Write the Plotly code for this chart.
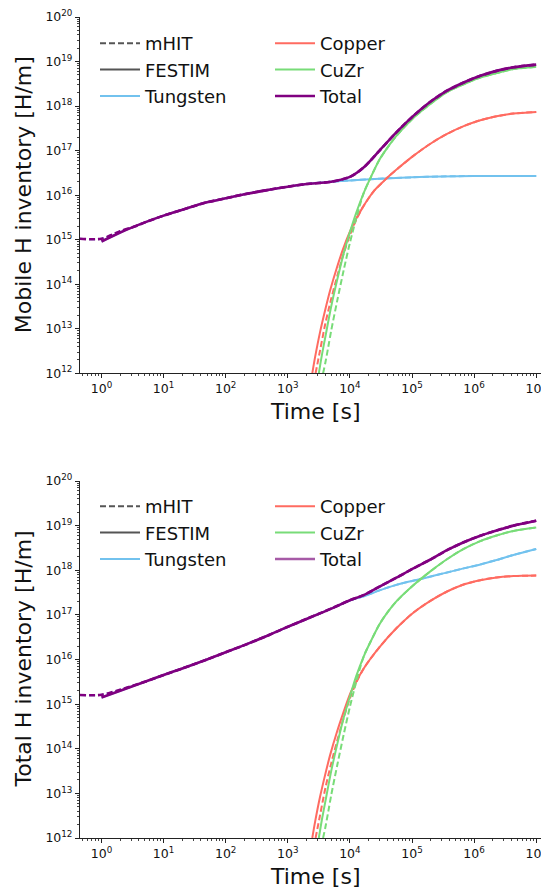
import plotly.graph_objects as go

# ================= DATA =================
# ---- Top panel: mobile H inventory [H/m] vs time [s] ----
top_w_t = [1, 2, 5, 10, 20, 50, 100, 200, 500, 1e3, 2e3, 5e3, 1e4, 3e4, 1e5, 3e5, 1e6, 3e6, 1e7]
top_w = [9.1e14, 1.45e15, 2.45e15, 3.47e15, 4.7e15, 6.9e15, 8.5e15, 1.05e16, 1.32e16, 1.55e16,
         1.78e16, 2.0e16, 2.14e16, 2.34e16, 2.51e16, 2.63e16, 2.69e16, 2.69e16, 2.69e16]
top_w_mhit_t0 = [0.45, 1, 2, 3.5]
top_w_mhit0 = [1.05e15, 1.05e15, 1.55e15, 2.0e15]

top_cu_t = [2480, 2750, 3300, 4000, 4800, 6200, 7800, 1e4, 1.26e4, 1.6e4, 2e4, 2.5e4, 3.2e4, 4.2e4,
            6.3e4, 1.05e5, 1.95e5, 3.6e5, 6.8e5, 1.26e6, 2.3e6, 4.3e6, 1e7]
top_cu = [1e12, 2.3e12, 8.3e12, 2.63e13, 7.2e13, 2.4e14, 6.3e14, 1.51e15, 2.95e15, 5.25e15, 8.5e15,
          1.29e16, 1.82e16, 2.63e16, 4.27e16, 7.6e16, 1.41e17, 2.34e17, 3.55e17, 4.8e17, 5.9e17,
          6.8e17, 7.4e17]
cu_mhit_t0 = [2800, 3300, 4000, 5000, 6300, 7900, 1e4, 1.26e4]
top_cu_mhit0 = [1e12, 3.2e12, 1.26e13, 4.7e13, 1.58e14, 4.8e14, 1.26e15, 2.75e15]

top_cz_t = [3160, 3550, 4000, 5000, 6300, 7900, 1e4, 1.26e4, 1.66e4, 2.1e4, 3e4, 4e4, 5.6e4, 1.05e5,
            1.95e5, 3.6e5, 6.8e5, 1.26e6, 2.3e6, 4.3e6, 1e7]
top_cz = [1e12, 2.63e12, 6.3e12, 3.16e13, 1.32e14, 4.8e14, 1.48e15, 3.98e15, 1.1e16, 2.29e16,
          6.3e16, 1.15e17, 2.14e17, 5.4e17, 1.1e18, 2.04e18, 3.09e18, 4.37e18, 5.5e18, 6.76e18, 7.59e18]
cz_mhit_t0 = [3700, 4000, 4500, 5000, 6300, 7900, 1e4, 1.26e4]
top_cz_mhit0 = [1e12, 1.66e12, 4.0e12, 9.1e12, 4.5e13, 2.0e14, 8.5e14, 2.95e15]

top_tot_t1 = [1e4, 1.66e4, 3e4, 5.6e4, 1.05e5, 1.95e5, 3.6e5, 6.8e5, 1.26e6, 2.3e6, 4.3e6, 1e7]
top_tot1 = [2.57e16, 4.17e16, 1.0e17, 2.57e17, 6.03e17, 1.23e18, 2.19e18, 3.39e18, 4.79e18,
            6.17e18, 7.41e18, 8.51e18]

# ---- Bottom panel: total H inventory [H/m] vs time [s] ----
bot_w_t = [1, 2, 5, 10, 20, 50, 100, 200, 500, 1e3, 2e3, 5e3, 1e4, 1.66e4, 3e4, 5.6e4, 1e5,
           1.74e5, 3.2e5, 6.8e5, 1.26e6, 2.3e6, 4.3e6, 1e7]
bot_w = [1.41e15, 2.0e15, 3.16e15, 4.5e15, 6.3e15, 1.0e16, 1.45e16, 2.1e16, 3.55e16, 5.4e16,
         8.1e16, 1.38e17, 2.1e17, 2.6e17, 3.55e17, 4.7e17, 5.75e17, 6.9e17, 8.5e17, 1.1e18,
         1.35e18, 1.7e18, 2.2e18, 3.0e18]
bot_w_mhit_t0 = [0.45, 1, 2, 3.5]
bot_w_mhit0 = [1.6e15, 1.62e15, 2.1e15, 2.7e15]

bot_cu_t = [2480, 2750, 3300, 4000, 4800, 6200, 7800, 1e4, 1.26e4, 1.66e4, 2.1e4, 3e4, 5.6e4,
            1.05e5, 1.95e5, 3.6e5, 6.8e5, 1.26e6, 2.3e6, 4.3e6, 1e7]
bot_cu = [1e12, 2.3e12, 8.3e12, 2.63e13, 7.2e13, 2.4e14, 6.3e14, 1.66e15, 3.16e15, 6.2e15, 1.0e16,
          1.9e16, 5.0e16, 1.12e17, 2.04e17, 3.3e17, 4.8e17, 6.0e17, 6.9e17, 7.4e17, 7.6e17]
bot_cu_mhit0 = [1e12, 3.2e12, 1.26e13, 4.7e13, 1.58e14, 4.8e14, 1.35e15, 3.0e15]

bot_cz_t = [3160, 3550, 4000, 5000, 6300, 7900, 1e4, 1.26e4, 1.66e4, 2.1e4, 3e4, 4e4, 5.6e4, 1.05e5,
            1.95e5, 3.6e5, 6.8e5, 1.26e6, 2.3e6, 4.3e6, 1e7]
bot_cz = [1e12, 2.63e12, 6.3e12, 3.16e13, 1.32e14, 4.8e14, 1.48e15, 4.2e15, 1.15e16, 2.34e16,
          6.2e16, 1.12e17, 2.0e17, 4.6e17, 9.3e17, 1.74e18, 3.0e18, 4.5e18, 6.0e18, 7.6e18, 9.1e18]
bot_cz_mhit0 = [1e12, 1.66e12, 4.0e12, 9.1e12, 4.5e13, 2.0e14, 8.7e14, 3.1e15]

bot_tot_t1 = [1e4, 1.66e4, 3e4, 5.6e4, 1.05e5, 1.95e5, 3.6e5, 6.8e5, 1.26e6, 2.3e6, 4.3e6, 1e7]
bot_tot1 = [2.13e17, 2.77e17, 4.3e17, 6.8e17, 1.1e18, 1.72e18, 2.78e18, 4.25e18, 5.95e18, 7.8e18,
            1.0e19, 1.29e19]

x_tick_vals = [1e0, 1e1, 1e2, 1e3, 1e4, 1e5, 1e6, 1e7]
x_tick_text = ["10<sup>%d</sup>" % i for i in range(0, 8)]
y_tick_vals = [10.0 ** i for i in range(12, 21)]
y_tick_text = ["10<sup>%d</sup>" % i for i in range(12, 21)]

x_title = "Time [s]"
y_titles = ["Mobile H inventory [H/m]", "Total H inventory [H/m]"]

# ================= STYLE =================
C_W = "#72C2EE"
C_CU = "#FF6B61"
C_CZ = "#78DC78"
C_TOT = "#800080"
C_GREY = "#555555"
DASH = "6px,3px"
FONT = "DejaVu Sans"

fig = go.Figure()


def add_pair(xa, ya, t, v, tm, vm, color, width):
    fig.add_trace(go.Scatter(x=t, y=v, mode="lines", xaxis=xa, yaxis=ya, showlegend=False,
                             line=dict(color=color, width=width, shape="spline", smoothing=0.8)))
    fig.add_trace(go.Scatter(x=tm, y=vm, mode="lines", xaxis=xa, yaxis=ya, showlegend=False,
                             line=dict(color=color, width=width, dash=DASH, shape="spline", smoothing=0.8)))


def panel(xa, ya, w_t, w, wm_t0, wm0, cu_t, cu, cu_m0, cz_t, cz, cz_m0, tot_t1, tot1):
    wm_t = wm_t0 + w_t[2:]
    wm = wm0 + w[2:]
    add_pair(xa, ya, w_t, w, wm_t, wm, C_W, 2)
    k = cu_t.index(1.26e4) + 1
    add_pair(xa, ya, cu_t, cu, cu_mhit_t0 + cu_t[k:], cu_m0 + cu[k:], C_CU, 2)
    k = cz_t.index(1.26e4) + 1
    add_pair(xa, ya, cz_t, cz, cz_mhit_t0 + cz_t[k:], cz_m0 + cz[k:], C_CZ, 2)
    n = w_t.index(1e4)
    tot_t = w_t[:n] + tot_t1
    tot = w[:n] + tot1
    add_pair(xa, ya, tot_t, tot, wm_t0 + tot_t[2:], wm0 + tot[2:], C_TOT, 2.6)


panel("x", "y", top_w_t, top_w, top_w_mhit_t0, top_w_mhit0, top_cu_t, top_cu, top_cu_mhit0,
      top_cz_t, top_cz, top_cz_mhit0, top_tot_t1, top_tot1)
panel("x2", "y2", bot_w_t, bot_w, bot_w_mhit_t0, bot_w_mhit0, bot_cu_t, bot_cu, bot_cu_mhit0,
      bot_cz_t, bot_cz, bot_cz_mhit0, bot_tot_t1, bot_tot1)

legend_cols = [
    ("legend", [("mHIT", C_GREY, DASH), ("FESTIM", C_GREY, "solid"), ("Tungsten", C_W, "solid")]),
    ("legend2", [("Copper", C_CU, "solid"), ("CuZr", C_CZ, "solid"), ("Total", C_TOT, "solid")]),
    ("legend3", [("mHIT", C_GREY, DASH), ("FESTIM", C_GREY, "solid"), ("Tungsten", C_W, "solid")]),
    ("legend4", [("Copper", C_CU, "solid"), ("CuZr", C_CZ, "solid"), ("Total", "#A65AA6", "solid")]),
]
for lg, items in legend_cols:
    for name, col, dash in items:
        top = lg in ("legend", "legend2")
        fig.add_trace(go.Scatter(x=[None], y=[None], mode="lines", name=name, legend=lg,
                                 xaxis="x" if top else "x2", yaxis="y" if top else "y2",
                                 line=dict(color=col, width=2.5 if name == "Total" else 2, dash=dash)))

# page body adds an 8px margin, so the figure is 8px smaller than the window
W, H = 541, 880
ML, MR, MT, MB = 72, 0, 9, 50
ph = H - MT - MB
pw = W - ML - MR


def py(p):
    return (H - MB - p) / ph


def px(p):
    return (p - ML) / pw


axis_common = dict(type="log", showline=True, linecolor="#222222", linewidth=1.1, mirror=False,
                   showgrid=False, zeroline=False, ticks="outside", ticklen=4, tickwidth=1,
                   tickcolor="#222222", tickfont=dict(family=FONT, size=12.5, color="#111111"),
                   minor=dict(ticks="outside", ticklen=2, tickwidth=0.8, tickcolor="#444444"))

xminor = [k * 10.0 ** n for n in range(-1, 8) for k in range(2, 10)]
yminor = [k * 10.0 ** n for n in range(12, 20) for k in range(2, 10)]

top_plot = (9, 365.3)
bot_plot = (473, 830)
top_dom = [py(top_plot[1]), 1.0]
bot_dom = [0.0, py(bot_plot[0])]

xr = [-0.346, 7.206]
yr = [12, 20]

for xname, yname, dom, yanchor_name in [
    ("xaxis", "yaxis", top_dom, "y"),
    ("xaxis2", "yaxis2", bot_dom, "y2"),
]:
    xa = dict(axis_common)
    xa.update(range=xr, anchor=yanchor_name, domain=[0, 1], tickmode="array",
              tickvals=x_tick_vals, ticktext=x_tick_text)
    xa["minor"] = dict(axis_common["minor"], tickmode="array", tickvals=xminor)
    ya = dict(axis_common)
    ya.update(range=yr, domain=dom, anchor=xname.replace("axis", ""), tickmode="array",
              tickvals=y_tick_vals, ticktext=y_tick_text)
    ya["minor"] = dict(axis_common["minor"], tickmode="array", tickvals=yminor)
    fig.layout[xname] = xa
    fig.layout[yname] = ya

title_font = dict(family=FONT, size=22, color="#111111")
annotations = []
for (ptop, pbot), yt in zip([top_plot, bot_plot], y_titles):
    annotations.append(dict(text=x_title, xref="paper", yref="paper", x=0.5, y=py(pbot + 38),
                            xanchor="center", yanchor="middle", showarrow=False, font=title_font))
    annotations.append(dict(text=yt, xref="paper", yref="paper", x=px(15), y=py((ptop + pbot) / 2),
                            xanchor="center", yanchor="middle", textangle=-90, showarrow=False,
                            font=title_font))

leg_common = dict(font=dict(family=FONT, size=18, color="#111111"), bgcolor="rgba(0,0,0,0)",
                  borderwidth=0, xanchor="left", yanchor="top", tracegroupgap=0, itemwidth=40,
                  itemclick=False, itemdoubleclick=False)
fig.update_layout(
    width=W, height=H, margin=dict(l=ML, r=MR, t=MT, b=MB),
    paper_bgcolor="white", plot_bgcolor="white", showlegend=True,
    font=dict(family=FONT, color="#111111"),
    annotations=annotations,
    legend=dict(leg_common, x=px(87), y=py(17)),
    legend2=dict(leg_common, x=px(262), y=py(17)),
    legend3=dict(leg_common, x=px(87), y=py(480)),
    legend4=dict(leg_common, x=px(262), y=py(480)),
)

fig.write_html("out.html")
